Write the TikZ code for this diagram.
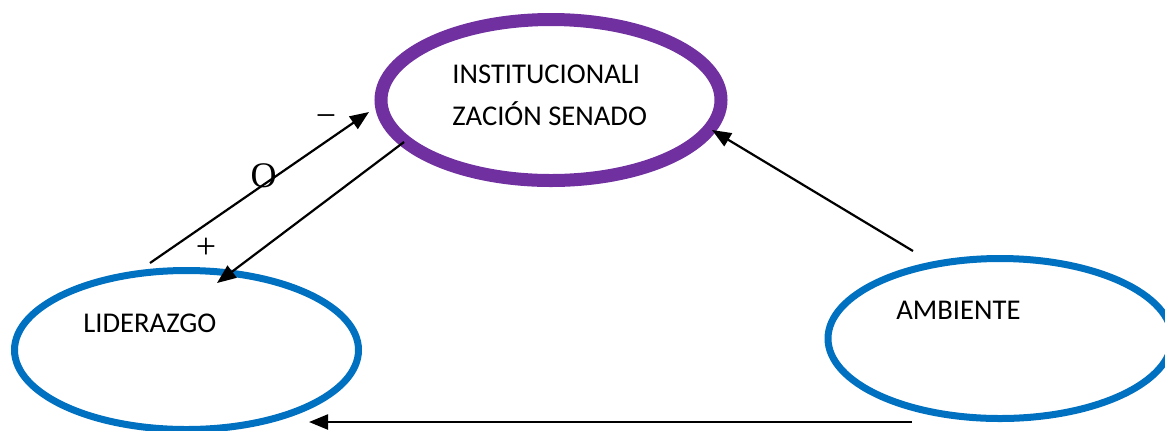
\documentclass[tikz,border=0pt]{standalone}
\usepackage{fontspec}
\setmainfont{Carlito}
\newfontfamily\signfont{Liberation Serif}
\usetikzlibrary{shapes.geometric,arrows.meta}
\definecolor{wpurple}{HTML}{7030A0}
\definecolor{wblue}{HTML}{0070C0}
\tikzset{
  oval/.style={ellipse, draw, inner sep=0pt, outer sep=0pt},
  topoval/.style={oval, draw=wpurple, line width=6.5pt, minimum width=170pt, minimum height=80.5pt},
  sideoval/.style={oval, draw=wblue, line width=3.5pt, minimum width=172pt, minimum height=79.5pt},
  label/.style={inner sep=0pt, anchor=base west, font=\fontsize{14.3}{17}\selectfont},
  sign/.style={inner sep=0pt, anchor=center, font=\signfont\fontsize{18}{20}\selectfont},
  link/.style={line width=1.1pt, -{Triangle[length=9.5pt,width=7.5pt]}}
}
\begin{document}
\begin{tikzpicture}[x=0.5pt,y=-0.5pt]
\useasboundingbox (0,0) rectangle (1165,430);
\clip (0,0) rectangle (1165,430);
% ovals
\node[topoval] (inst) at (551,100) {};
\node[sideoval] (lid) at (186.5,350) {};
\node[sideoval, minimum height=80pt] (amb) at (1000,338.5) {};
% texts
\node[label] (instA) at (452,83) {INSTITUCIONALI};
\node[label] (instB) at (452,125) {ZACIÓN SENADO};
\node[label] (lidT) at (83,332) {LIDERAZGO};
\node[label] (ambT) at (896,319) {AMBIENTE};
% connector end points
\coordinate (a1s) at (150,263);
\coordinate (a1e) at (369,112);
\coordinate (a2s) at (404,142);
\coordinate (a2e) at (217,283);
\coordinate (a3s) at (913,251);
\coordinate (a3e) at (712,130);
\coordinate (a4s) at (912,422);
\coordinate (a4e) at (309,422);
% connectors
\draw[link] (a1s) -- (a1e);
\draw[link] (a2s) -- (a2e);
\draw[link] (a3s) -- (a3e);
\draw[link] (a4s) -- (a4e);
% signs
\node[sign] (minus) at (326,121) {−};
\node[sign] (ozero) at (263.5,175.5) {O};
\node[sign] (plus) at (206,248) {+};
\end{tikzpicture}
\end{document}
